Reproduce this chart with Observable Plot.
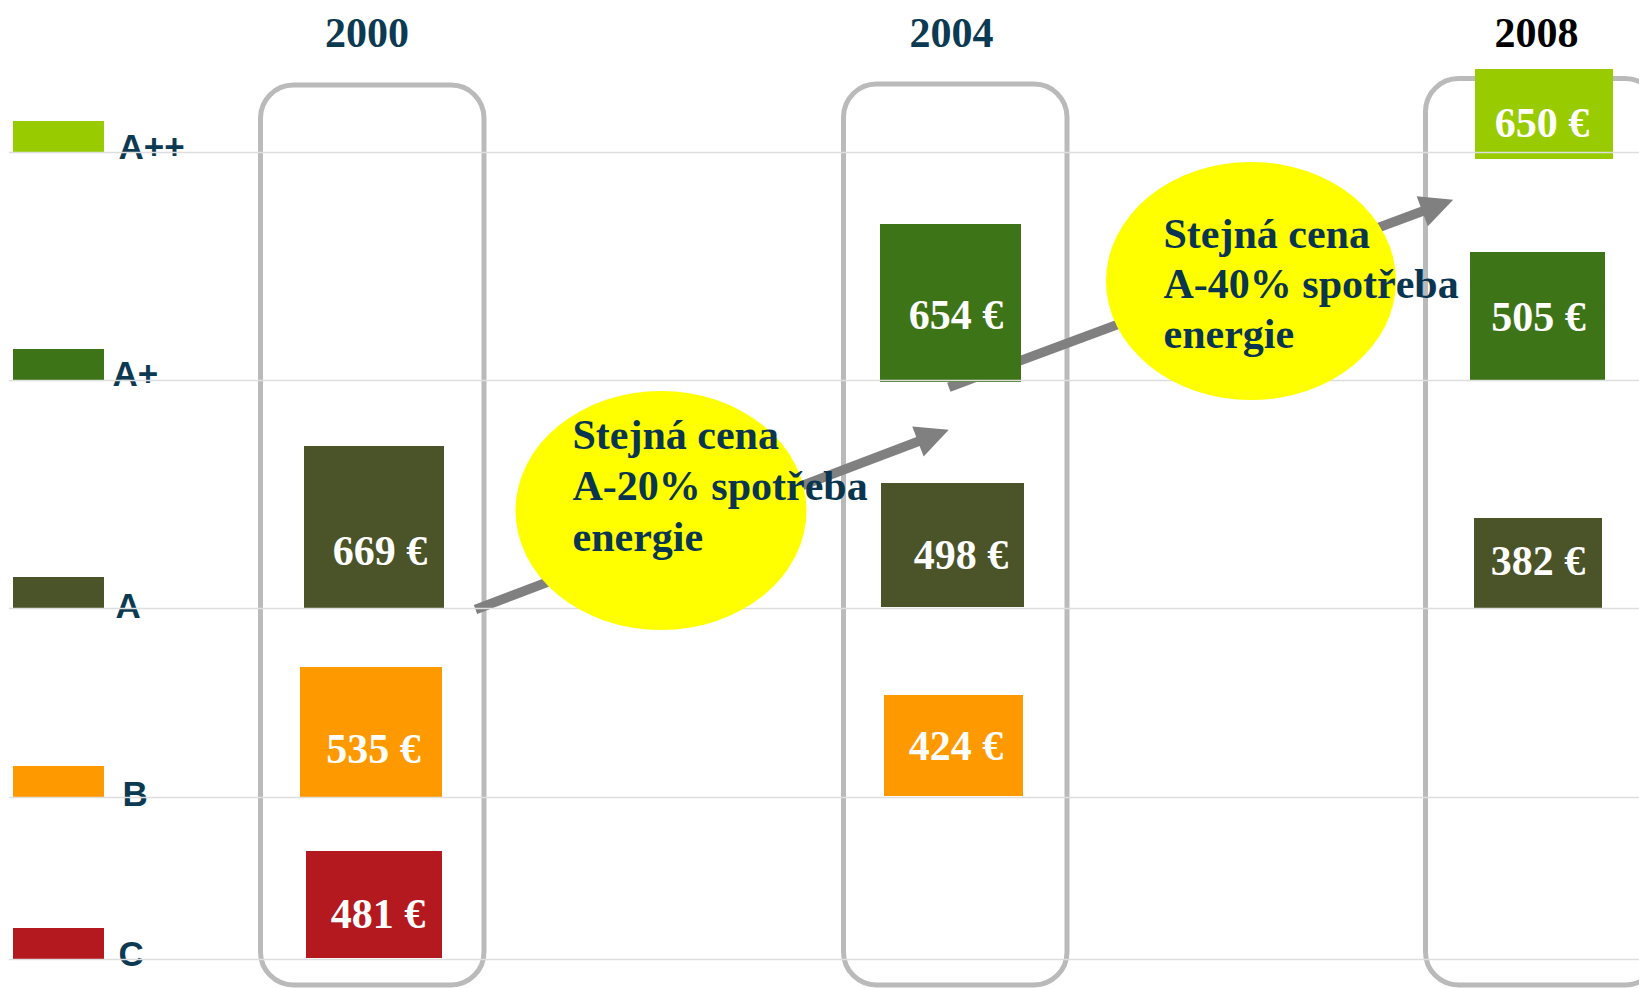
<!DOCTYPE html>
<html><head><meta charset="utf-8">
<script src="https://cdn.jsdelivr.net/npm/d3@7"></script>
<script src="https://cdn.jsdelivr.net/npm/@observablehq/plot@0.6"></script>
<style>html,body{margin:0;padding:0;background:#fff;overflow:hidden}</style>
</head><body><div id="chart"></div>
<script>
// ---------- data ----------
const classes = ["A++", "A+", "A", "B", "C"];
const classColors = ["#99cc00", "#3e7418", "#4b5329", "#ff9900", "#b4191f"];
const years = ["2000", "2004", "2008"];
const barYears = ["2000", "2000", "2000", "2004", "2004", "2004", "2008", "2008", "2008"];
const barClasses = ["A", "B", "C", "A+", "A", "B", "A++", "A+", "A"];
const prices = [669, 535, 481, 654, 498, 424, 650, 505, 382];
const noteLines = [
  ["Stejná cena", "A-20% spotřeba", "energie"],
  ["Stejná cena", "A-40% spotřeba", "energie"]
];

// ---------- layout (page units) ----------
const W = 1639, H = 988;
const classLevel = [152, 380, 608, 797, 959];
const legendLabelX = [118, 112, 115, 122, 118];
const legendLabelY = [158, 385, 617, 805, 965];
const yearX = [366.5, 951, 1536];
const yearColor = ["#0b3a52", "#0b3a52", "#000000"];
const colX1 = [260.5, 843.5, 1425.5], colX2 = [484, 1067, 1658];
const colY1 = [85, 84, 78.5], colY2 = [985, 985, 985];
const barX1 = [304, 300, 306, 880, 881, 884, 1475, 1470, 1474];
const barX2 = [444, 442, 442, 1021, 1024, 1023, 1613, 1605, 1602];
const barTop = [446, 667, 851, 224, 483, 695, 69, 252, 518];
const barBottom = [609, 798, 958, 382, 607, 796, 159, 380, 608];
const valueX = [379.5, 373, 377.5, 955.5, 960.5, 955.5, 1541.5, 1538, 1537.5];
const valueY = [564, 762, 927, 328, 568, 759, 136, 330, 574];
const ellX1 = [515.5, 1106], ellX2 = [806.5, 1396], ellY1 = [391, 162], ellY2 = [630, 400];
const noteX = [572, 1163];
const noteY = [[448, 499, 550], [247, 297, 347]];
const arrowFrom = [[475, 609], [948.3, 386.7]];
const arrowTo = [[948.3, 429.3], [1452.7, 199.3]];
const headLen = 33, headW = 32;

// ---------- build tables ----------
const colorOf = c => classColors[classes.indexOf(c)];
const columns = years.map((y, i) => ({year: y, x1: colX1[i], x2: colX2[i], y1: colY1[i], y2: colY2[i], tx: yearX[i], color: yearColor[i]}));
const bars = prices.map((p, i) => ({year: barYears[i], cls: barClasses[i], price: p, label: `${p} €`,
  x1: barX1[i], x2: barX2[i], y1: barTop[i], y2: barBottom[i], lx: valueX[i], ly: valueY[i]}));
const legend = classes.map((c, i) => ({cls: c, level: classLevel[i], top: classLevel[i] - 31, lx: legendLabelX[i], ly: legendLabelY[i]}));
const ellipses = ellX1.map((x, i) => ({x1: x, x2: ellX2[i], y1: ellY1[i], y2: ellY2[i]}));
const notes = noteLines.flatMap((lines, i) => lines.map((t, j) => ({text: t, x: noteX[i], y: noteY[i][j]})));
const arrows = arrowFrom.map((f, i) => {
  const [x1, y1] = f, [x2, y2] = arrowTo[i];
  const L = Math.hypot(x2 - x1, y2 - y1), ux = (x2 - x1) / L, uy = (y2 - y1) / L;
  return {i, x1, y1, x2, y2, ux, uy, sx: x2 - (headLen - 3) * ux, sy: y2 - (headLen - 3) * uy};
});
const heads = arrows.flatMap(a => {
  const nx = -a.uy, ny = a.ux, bx = a.x2 - headLen * a.ux, by = a.y2 - headLen * a.uy;
  return [
    {i: a.i, x: a.x2, y: a.y2},
    {i: a.i, x: bx + nx * headW / 2, y: by + ny * headW / 2},
    {i: a.i, x: bx - nx * headW / 2, y: by - ny * headW / 2}
  ];
});

const serif = "'Liberation Serif', 'Times New Roman', serif";
const sans = "'Liberation Sans', Arial, sans-serif";

const chart = Plot.plot({
  width: W, height: H, margin: 0,
  x: {domain: [0, W], range: [0, W], axis: null},
  y: {domain: [0, H], range: [0, H], axis: null},
  marks: [
    Plot.rect(columns, {x1: "x1", x2: "x2", y1: "y1", y2: "y2", rx: 33, ry: 33, fill: "none", stroke: "#bababa", strokeWidth: 5}),
    Plot.link(arrows, {x1: "x1", y1: "y1", x2: "sx", y2: "sy", stroke: "#808080", strokeWidth: 9.5}),
    Plot.line(heads, {x: "x", y: "y", z: "i", curve: "linear-closed", fill: "#808080", stroke: "none"}),
    Plot.rect(bars, {x1: "x1", x2: "x2", y1: "y1", y2: "y2", fill: d => colorOf(d.cls)}),
    Plot.rect(legend, {x1: 13, x2: 104, y1: "top", y2: "level", fill: d => colorOf(d.cls)}),
    Plot.text(bars, {x: "lx", y: "ly", text: "label", fill: "white", fontFamily: serif, fontWeight: "bold", fontSize: 42, textAnchor: "middle", lineAnchor: "bottom"}),
    Plot.text(legend, {x: "lx", y: "ly", text: "cls", fill: "#0b3a52", fontFamily: sans, fontWeight: "bold", fontSize: 35, textAnchor: "start", lineAnchor: "bottom"}),
    Plot.text(columns, {x: "tx", y: 46, text: "year", fill: d => d.color, fontFamily: serif, fontWeight: "bold", fontSize: 42, textAnchor: "middle", lineAnchor: "bottom"}),
    Plot.ruleY(classLevel, {x1: 9, x2: W, stroke: "#dedede", strokeWidth: 1.3}),
    Plot.rect(ellipses, {x1: "x1", x2: "x2", y1: "y1", y2: "y2", rx: "50%", ry: "50%", fill: "#ffff00"}),
    Plot.text(notes, {x: "x", y: "y", text: "text", fill: "#0a3550", fontFamily: serif, fontWeight: "bold", fontSize: 42, textAnchor: "start", lineAnchor: "bottom"})
  ]
});
document.getElementById("chart").appendChild(chart);
</script>
</body></html>
